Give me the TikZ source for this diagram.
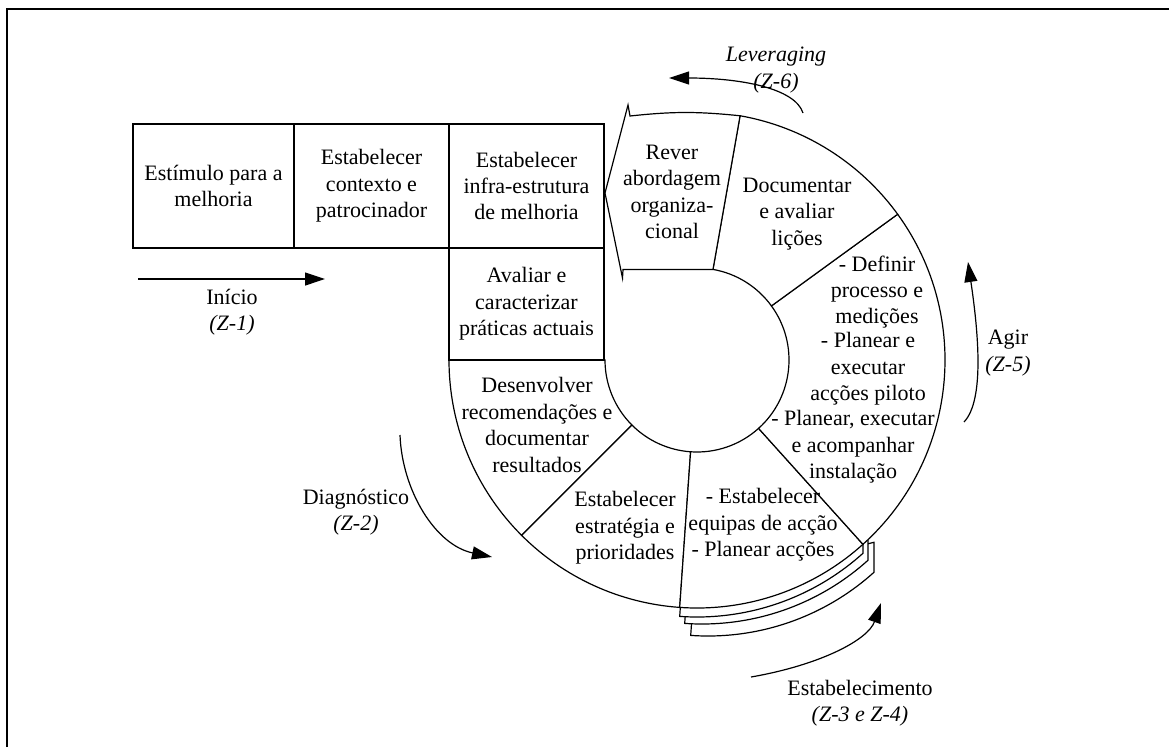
\documentclass[tikz,border=0pt]{standalone}
\usepackage{fontspec}
\setmainfont{Liberation Serif}
\usetikzlibrary{positioning,arrows.meta}

\begin{document}
\begin{tikzpicture}[x=1pt, y=1pt,
		font=\fontsize{22}{26.4}\selectfont,
		box/.style={draw, line width=1.3pt, inner sep=0pt, outer sep=0pt,
			align=center, minimum width=155pt, minimum height=124pt},
		ring/.style={draw, fill=white, line width=1.2pt},
		txt/.style={align=center, inner sep=0pt},
		flow/.style={-{Triangle[length=20pt, width=13pt]}, line width=1.2pt}]
	\useasboundingbox (0,0) rectangle (1169,-747);
	% frame
	\draw[line width=1.2pt] (7,-747) -- (7,-9) -- (1169,-9);

	% ring of phases round the inner circle
	\begin{scope}[shift={(697,-360)}]
		% stacked copies behind the action sector
		\foreach \dx/\dy in {11/28, 5/16, 0/9}
			\draw[ring, shift={(\dx,-\dy)}] (-94:200) -- (-94:248)
				arc[start angle=-94, end angle=-48, radius=248] -- ++(0,30) -- cycle;
		\foreach \a/\b in {-180/-135, -135/-94, -94/-48, -48/36, 36/80}
			\draw[ring] (\a:92) arc[start angle=\a, end angle=\b, radius=92]
				-- (\b:248) arc[start angle=\b, end angle=\a, radius=248] -- cycle;
		% review block, pointing back to the start
		\draw[ring] (80:248) to[bend right=6] (-67,244) -- (-69,255) -- (-92,167)
			-- (-74.5,82) -- (-74,90.6) -- (80:92) -- cycle;
	\end{scope}

	% initiating boxes
	\node[box, minimum width=161pt] (stim) at (213.5,-186) {Estímulo para a\\melhoria};
	\node[box, right=0pt of stim] (ctx) {Estabelecer\\contexto e\\patrocinador};
	\node[box, right=0pt of ctx] (infra) {Estabelecer\\infra-estrutura\\de melhoria};
	\node[box, minimum height=112pt, below=0pt of infra] (aval)
		{Avaliar e\\caracterizar\\práticas actuais};

	% sector texts
	\node[txt] (dev) at (537,-425) {Desenvolver\\recomendações e\\documentar\\resultados};
	\node[txt] (strat) at (625,-528) {Estabelecer\\estratégia e\\prioridades};
	\node[txt] (team) at (763,-525) {- Estabelecer\\equipas de acção\\- Planear acções};
	\node[txt] (defn) at (877,-292) {- Definir\\processo e\\medições};
	\node[txt] (pilot) at (868,-369) {- Planear e\\executar\\acções piloto};
	\node[txt] (inst) at (853,-447) {- Planear, executar\\e acompanhar\\instalação};
	\node[txt] (lessons) at (797,-214) {Documentar\\e avaliar\\lições};
	\node[txt] (review) at (672,-192) {Rever\\abordagem\\organiza-\\cional};

	% phase arrows
	\coordinate (in0) at (138,-279);
	\coordinate (in1) at (325,-279);
	\coordinate (dg0) at (400,-435);
	\coordinate (dg1) at (492,-557);
	\coordinate (es0) at (751,-677);
	\coordinate (es1) at (881,-603);
	\coordinate (ag0) at (964,-422);
	\coordinate (ag1) at (968,-262);
	\coordinate (lv0) at (803,-113);
	\coordinate (lv1) at (669,-78);
	\draw[flow] (in0) -- (in1);
	\draw[flow] (dg0) .. controls (402,-490) and (435,-545) .. (dg1);
	\draw[flow] (es0) .. controls (820,-665) and (868,-640) .. (es1);
	\draw[flow] (ag0) .. controls (985,-400) and (978,-330) .. (ag1);
	\draw[flow] (lv0) .. controls (795,-88) and (740,-78) .. (lv1);

	\node[txt] (start) at (232,-312) {Início\\\textit{(Z-1)}};
	\node[txt] (diag) at (356,-512) {Diagnóstico\\\textit{(Z-2)}};
	\node[txt] (estab) at (860,-703) {Estabelecimento\\\textit{(Z-3 e Z-4)}};
	\node[txt] (act) at (1008,-353) {Agir\\\textit{(Z-5)}};
	\node[txt] (lev) at (776,-70) {\textit{Leveraging}\\\textit{(Z-6)}};
\end{tikzpicture}
\end{document}
